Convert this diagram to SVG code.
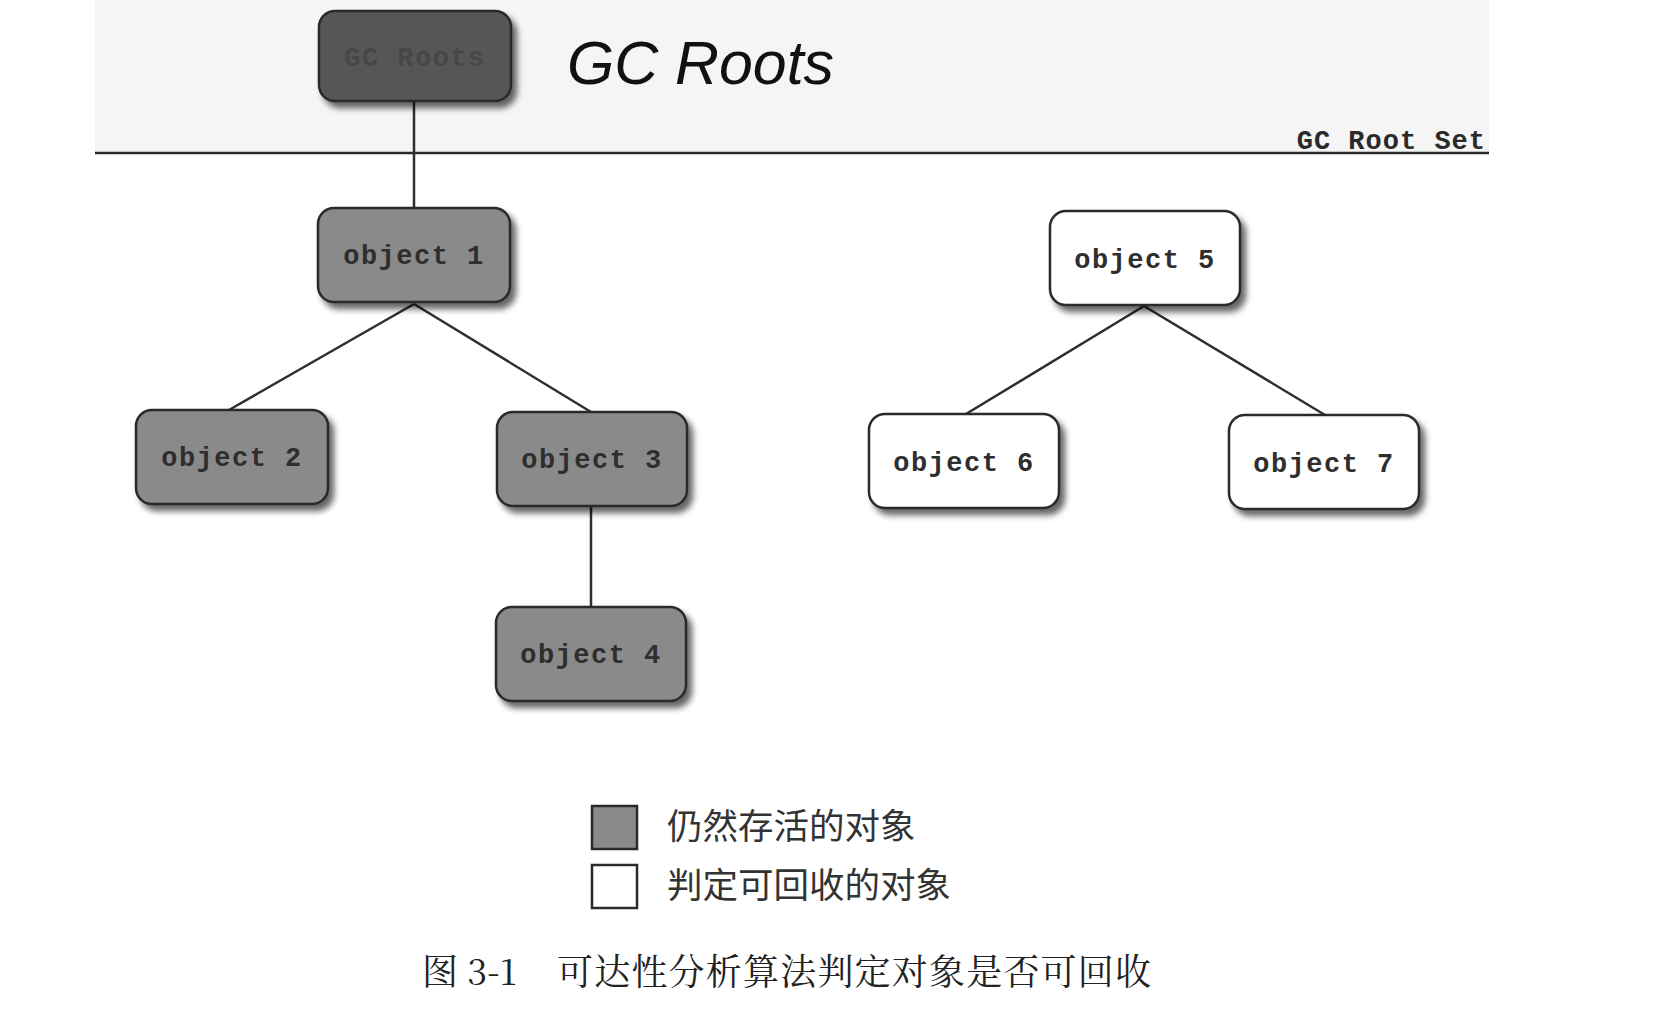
<svg xmlns="http://www.w3.org/2000/svg" width="1656" height="1018" viewBox="0 0 1656 1018">
<style>
.box{stroke:#2a2a2a;stroke-width:2.5;filter:url(#sh)}
.live{fill:#8a8a8a}
.dead{fill:#ffffff}
.root{fill:#575757}
.lbl{font-family:"Liberation Mono",monospace;font-weight:bold;font-size:27px;fill:#2e2e2e;text-anchor:middle;letter-spacing:1.5px}
.edge{stroke:#2f2f2f;stroke-width:2.5;fill:none}
.cjk{font-family:"Noto Sans CJK SC",sans-serif;font-size:35.5px;fill:#333}
.cap{font-family:"Noto Serif CJK SC","Noto Sans CJK SC",serif;font-size:36px;fill:#222}
</style>
<defs>
<filter id="sh" x="-20%" y="-20%" width="150%" height="150%">
<feGaussianBlur in="SourceAlpha" stdDeviation="3"/>
<feOffset dx="5" dy="6" result="b"/>
<feComponentTransfer><feFuncA type="linear" slope="0.6"/></feComponentTransfer>
<feMerge><feMergeNode/><feMergeNode in="SourceGraphic"/></feMerge>
</filter>
</defs>
<rect width="1656" height="1018" fill="#ffffff"/>
<rect x="95" y="0" width="1394" height="153" fill="#f5f5f5"/>
<line x1="95" y1="153" x2="1489" y2="153" stroke="#2a2a2a" stroke-width="2.5"/>
<text x="1486" y="149" text-anchor="end" font-family="Liberation Mono,monospace" font-weight="bold" font-size="27" fill="#2a2a2a" letter-spacing="1">GC Root Set</text>
<text x="567" y="84" font-family="Liberation Sans,sans-serif" font-style="italic" font-weight="300" font-size="62" fill="#111" textLength="267" lengthAdjust="spacingAndGlyphs">GC Roots</text>
<g id="connectors">
<line class="edge" x1="414" y1="100" x2="414" y2="210"/>
<line class="edge" x1="414" y1="304" x2="229" y2="410"/>
<line class="edge" x1="414" y1="304" x2="591" y2="412"/>
<line class="edge" x1="591" y1="505" x2="591" y2="608"/>
<line class="edge" x1="1144" y1="306" x2="966" y2="414"/>
<line class="edge" x1="1144" y1="306" x2="1325" y2="415"/>
</g>
<g id="gcroots">
<rect class="box root" x="319" y="11" width="192" height="90" rx="16"/>
<text class="lbl" x="415" y="66" style="fill:#474747">GC Roots</text>
</g>
<g id="object1">
<rect class="box live" x="318" y="208" width="192" height="94" rx="16"/>
<text class="lbl" x="414" y="264">object 1</text>
</g>
<g id="object2">
<rect class="box live" x="136" y="410" width="192" height="94" rx="16"/>
<text class="lbl" x="232" y="466">object 2</text>
</g>
<g id="object3">
<rect class="box live" x="497" y="412" width="190" height="94" rx="16"/>
<text class="lbl" x="592" y="468">object 3</text>
</g>
<g id="object4">
<rect class="box live" x="496" y="607" width="190" height="94" rx="16"/>
<text class="lbl" x="591" y="663">object 4</text>
</g>
<g id="object5">
<rect class="box dead" x="1050" y="211" width="190" height="94" rx="16"/>
<text class="lbl" x="1145" y="268">object 5</text>
</g>
<g id="object6">
<rect class="box dead" x="869" y="414" width="190" height="94" rx="16"/>
<text class="lbl" x="964" y="471">object 6</text>
</g>
<g id="object7">
<rect class="box dead" x="1229" y="415" width="190" height="94" rx="16"/>
<text class="lbl" x="1324" y="472">object 7</text>
</g>
<g id="legend">
<rect x="592" y="806" width="45" height="43" fill="#8a8a8a" stroke="#2a2a2a" stroke-width="2.5"/>
<text class="cjk" x="667" y="839">仍然存活的对象</text>
<rect x="592" y="865" width="45" height="43" fill="#ffffff" stroke="#2a2a2a" stroke-width="2.5"/>
<text class="cjk" x="667" y="898">判定可回收的对象</text>
</g>
<g id="caption">
<text class="cap" x="422" y="985">图 3-1</text>
<text class="cap" x="557" y="985" textLength="594" lengthAdjust="spacing">可达性分析算法判定对象是否可回收</text>
</g>
</svg>
